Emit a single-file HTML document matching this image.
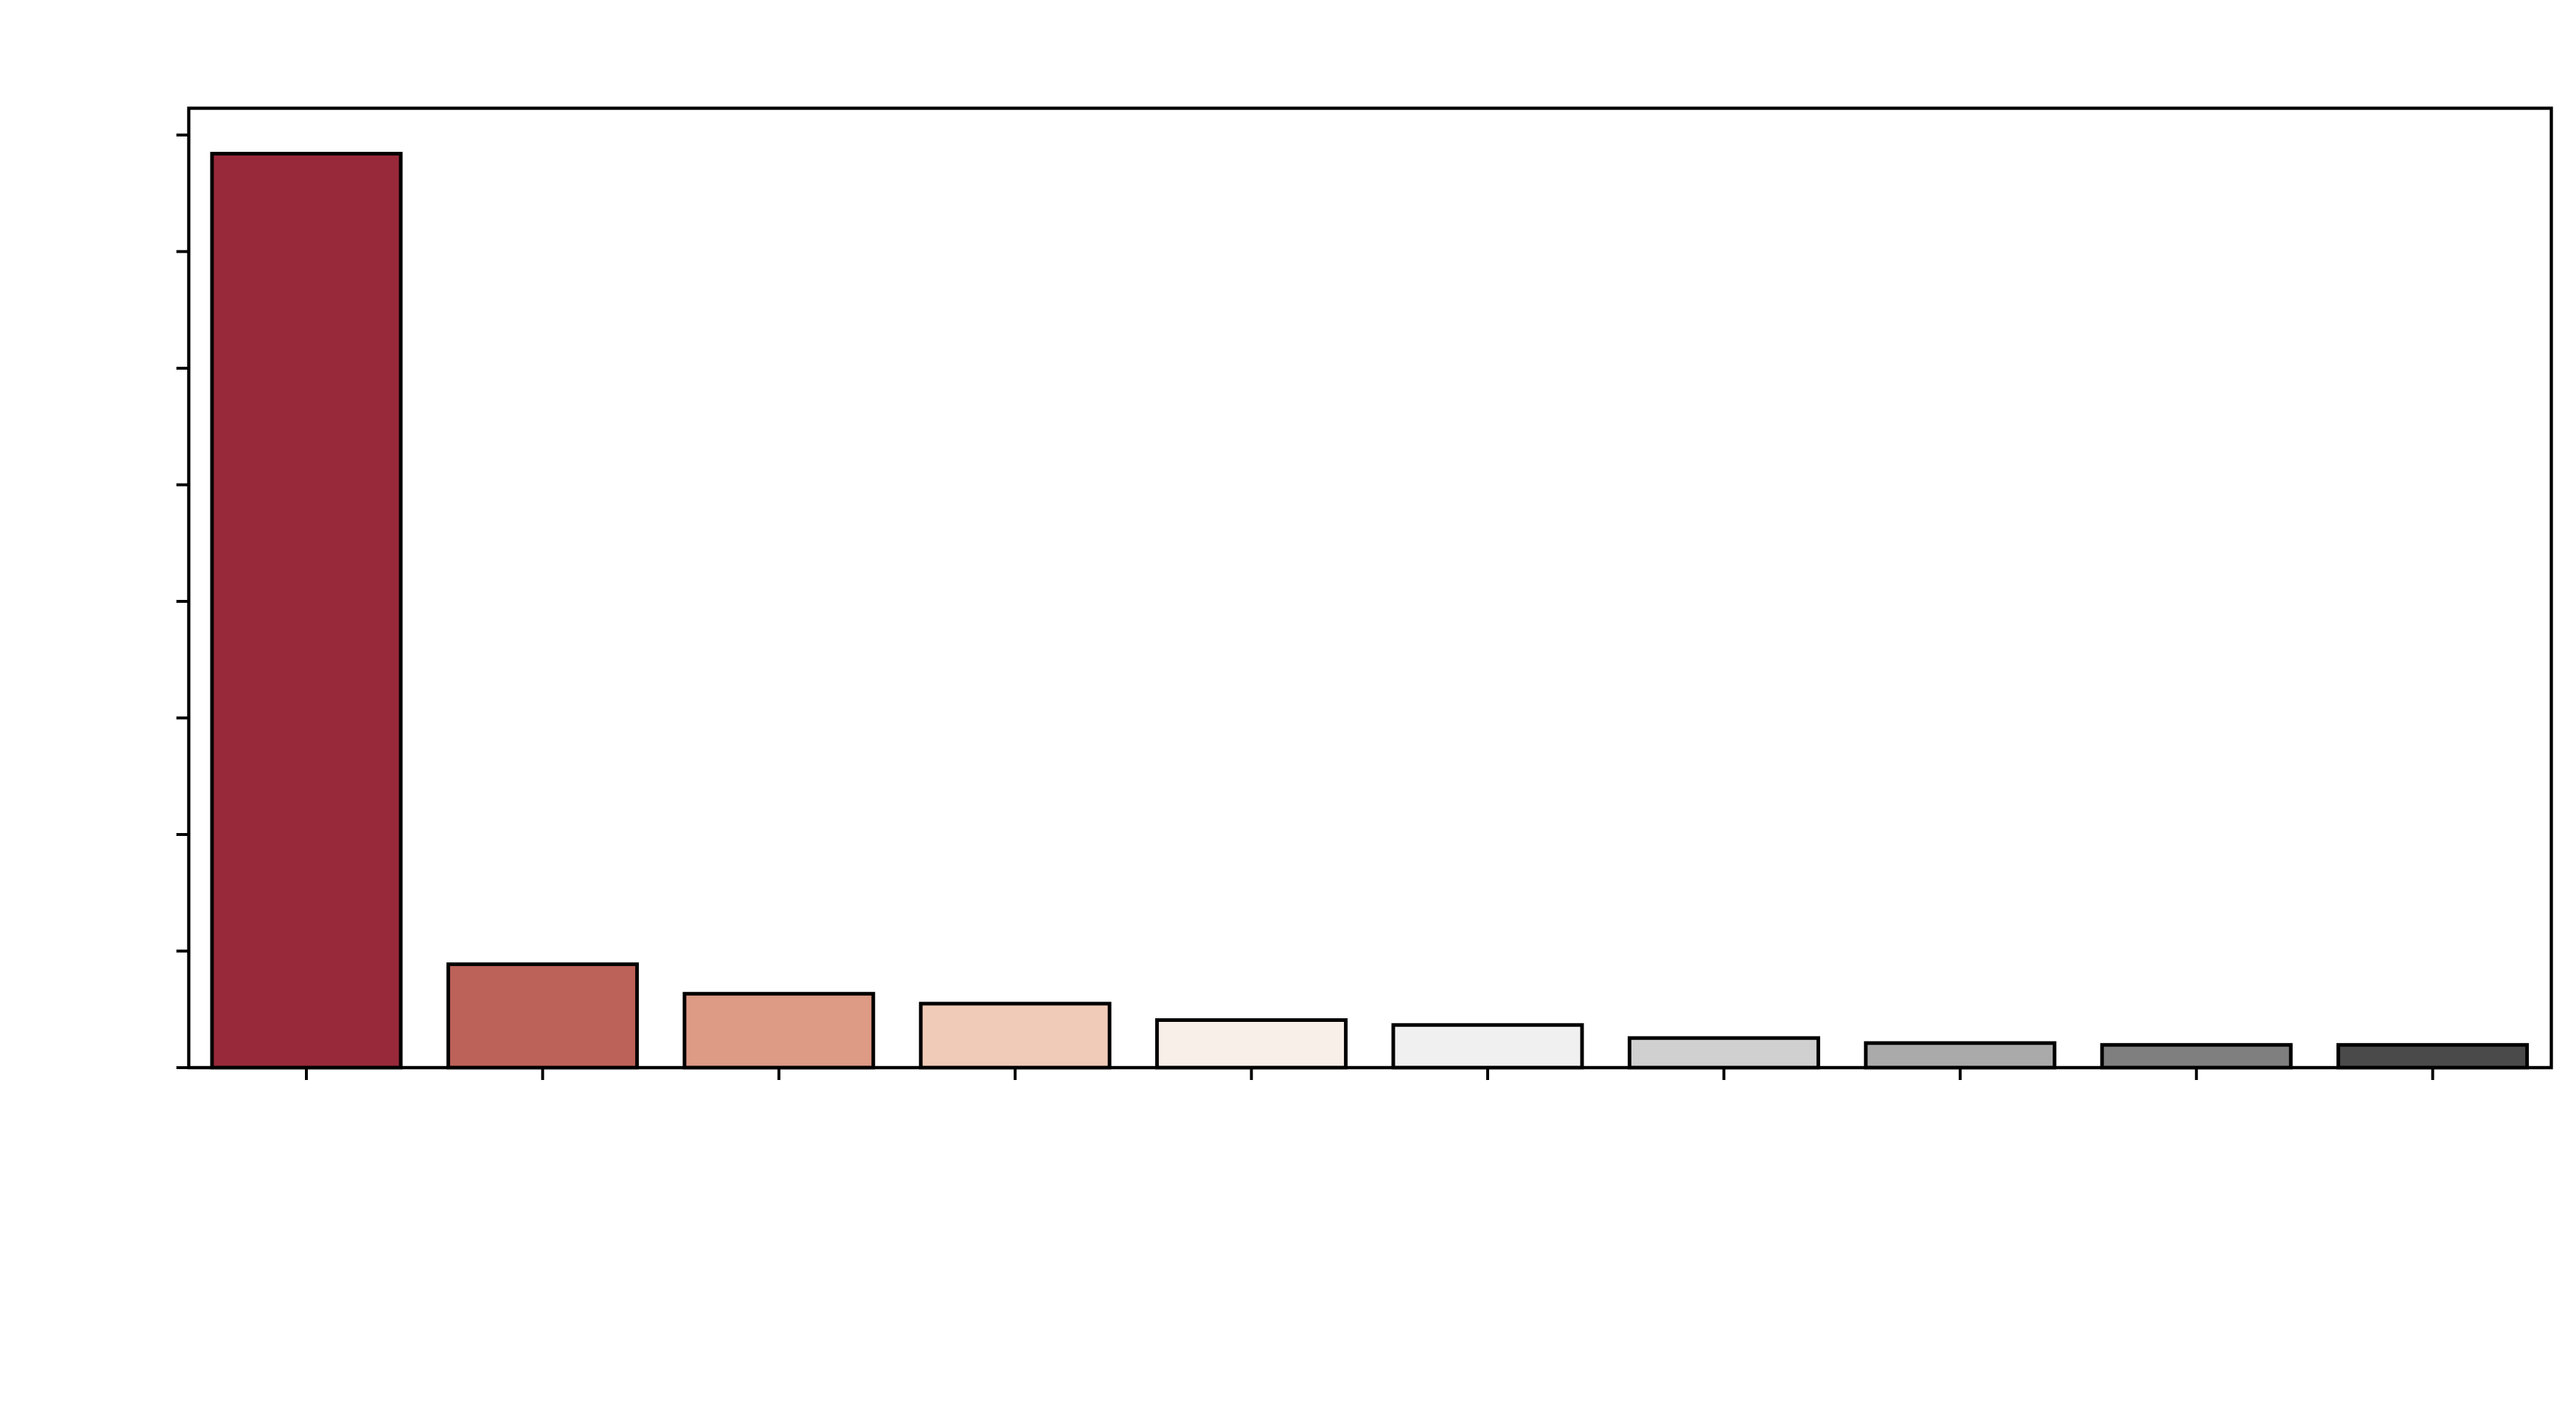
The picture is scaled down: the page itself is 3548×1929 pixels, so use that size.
<!DOCTYPE html>
<html><head><meta charset="utf-8"><style>
html,body{margin:0;padding:0;background:#fff;}
svg{display:block;}
</style></head><body>
<svg id="chart" width="3548" height="1929" viewBox="0 0 3548 1929" xmlns="http://www.w3.org/2000/svg">
<rect x="0" y="0" width="3548" height="1929" fill="#fff"/>
<g id="bars"></g>
<g id="yticks"></g>
<g id="xticks"></g>
<rect x="260" y="149" width="3254" height="1321" fill="none" stroke="#000" stroke-width="4.5"/>
</svg>
<script>
const categories = ["c1","c2","c3","c4","c5","c6","c7","c8","c9","c10"];
const values = [7.84, 0.887, 0.634, 0.549, 0.408, 0.366, 0.254, 0.211, 0.195, 0.195];
const colors = ["#98293a","#bd6258","#dd9a85","#f0cbb8","#f9efe9","#f0f0f0","#d0d0d0","#aaaaaa","#7f7f7f","#4a4a4a"];
const yTicks = [0,1,2,3,4,5,6,7,8];

const X0 = 260, X1 = 3514, Y0 = 1470, Y1 = 149;
const yMax = 8.23;
function y(v){ return Y0 - v/yMax*(Y0-Y1); }
const step = 325.4, first = 422;
function x(i){ return first + i*step; }
const bw = 260;
const NS = "http://www.w3.org/2000/svg";
const gb = document.getElementById('bars');
categories.forEach((c,i)=>{
  const r = document.createElementNS(NS,'rect');
  
  
  r.setAttribute('x', x(i)-bw/2);
  r.setAttribute('y', y(values[i]));
  r.setAttribute('width', bw);
  r.setAttribute('height', Y0 - y(values[i]));
  r.setAttribute('fill', colors[i]);
  r.setAttribute('stroke', '#000');
  r.setAttribute('stroke-width', '5');
  gb.appendChild(r);
});
const gy = document.getElementById('yticks');
yTicks.forEach(t=>{
  const l = document.createElementNS(NS,'line');
  
  
  l.setAttribute('x1', X0-17); l.setAttribute('x2', X0);
  l.setAttribute('y1', y(t)); l.setAttribute('y2', y(t));
  l.setAttribute('stroke', '#000'); l.setAttribute('stroke-width', '4');
  gy.appendChild(l);
});
const gx = document.getElementById('xticks');
categories.forEach((c,i)=>{
  const l = document.createElementNS(NS,'line');
  
  
  l.setAttribute('x1', x(i)); l.setAttribute('x2', x(i));
  l.setAttribute('y1', Y0); l.setAttribute('y2', Y0+17);
  l.setAttribute('stroke', '#000'); l.setAttribute('stroke-width', '4');
  gx.appendChild(l);
});
</script>
</body></html>
